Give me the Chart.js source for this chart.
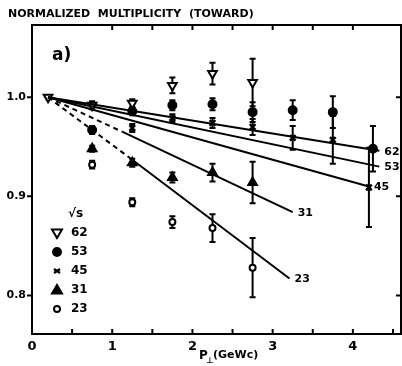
<!DOCTYPE html>
<html>
<head>
<meta charset="utf-8">
<script src="https://cdn.jsdelivr.net/npm/chart.js@4.4.0/dist/chart.umd.min.js"></script>
<style>
  html, body { margin: 0; padding: 0; background: #fff; }
  canvas { display: block; }
</style>
</head>
<body>
<canvas id="grafica" width="402" height="366"></canvas>
<script>
// ticks
const xTicks = [0, 0.5, 1, 1.5, 2, 2.5, 3, 3.5, 4, 4.5];
const xLabels = [0, 1, 2, 3, 4];
const yTicks = [0.8, 0.9, 1.0];

// datos medidos (pT, multiplicidad normalizada, error)
const pt62 = [0.2, 0.75, 1.25, 1.75, 2.25, 2.75];
const val62 = [1.0, 0.992, 0.994, 1.012, 1.024, 1.015];
const err62 = [0, 0.004, 0.004, 0.008, 0.011, 0.024];

const pt53 = [0.75, 1.25, 1.75, 2.25, 2.75, 3.25, 3.75, 4.25];
const val53 = [0.967, 0.986, 0.992, 0.993, 0.985, 0.987, 0.985, 0.948];
const err53 = [0.004, 0.004, 0.005, 0.006, 0.010, 0.010, 0.016, 0.023];

const pt45 = [1.25, 1.75, 2.25, 2.75, 3.25, 3.75, 4.2];
const val45 = [0.969, 0.979, 0.974, 0.970, 0.959, 0.957, 0.909];
const err45 = [0.004, 0.004, 0.005, 0.008, 0.012, 0.024, 0.04];

const pt31 = [0.75, 1.25, 1.75, 2.25, 2.75];
const val31 = [0.948, 0.934, 0.919, 0.924, 0.914];
const err31 = [0.003, 0.004, 0.005, 0.009, 0.021];

const pt23 = [0.75, 1.25, 1.75, 2.25, 2.75];
const val23 = [0.932, 0.894, 0.874, 0.868, 0.828];
const err23 = [0.004, 0.004, 0.006, 0.014, 0.03];

// rectas de ajuste
const fit62X = [0.2, 4.33], fit62Y = [1.0, 0.946];
const fit53X = [0.2, 4.33], fit53Y = [1.0, 0.930];
const fit45X = [0.2, 4.2], fit45Y = [1.0, 0.910];
const fit31DashX = [0.2, 1.13], fit31DashY = [1.0, 0.965];
const fit31X = [1.13, 3.25], fit31Y = [0.965, 0.884];
const fit23DashX = [0.2, 1.25], fit23DashY = [1.0, 0.937];
const fit23X = [1.25, 3.21], fit23Y = [0.937, 0.817];

const legendNames = ["62", "53", "45", "31", "23"];

function pares(xs, ys) {
  return xs.map((x, i) => ({ x: x, y: ys[i] }));
}

function recta(xs, ys, dash) {
  return {
    data: pares(xs, ys),
    showLine: true,
    borderColor: "#000",
    borderWidth: 2,
    borderDash: dash ? [5, 4] : [],
    pointRadius: 0
  };
}

const series = [
  { name: "62", xs: pt62, ys: val62, err: err62, style: "triangle", rot: 180, r: 5, fill: "#fff" },
  { name: "53", xs: pt53, ys: val53, err: err53, style: "circle", rot: 0, r: 4, fill: "#000" },
  { name: "45", xs: pt45, ys: val45, err: err45, style: "crossRot", rot: 0, r: 4, fill: "#000" },
  { name: "31", xs: pt31, ys: val31, err: err31, style: "triangle", rot: 0, r: 5, fill: "#000" },
  { name: "23", xs: pt23, ys: val23, err: err23, style: "circle", rot: 0, r: 3, fill: "#fff" }
];

const datasets = [
  recta(fit62X, fit62Y, false),
  recta(fit53X, fit53Y, false),
  recta(fit45X, fit45Y, false),
  recta(fit31DashX, fit31DashY, true),
  recta(fit31X, fit31Y, false),
  recta(fit23DashX, fit23DashY, true),
  recta(fit23X, fit23Y, false)
];
series.forEach(s => {
  datasets.push({
    data: pares(s.xs, s.ys),
    showLine: false,
    pointStyle: s.style,
    rotation: s.rot,
    pointRadius: s.r,
    backgroundColor: s.fill,
    borderColor: "#000",
    borderWidth: s.style === "crossRot" ? 2.5 : 2
  });
});

const fitLabels = [
  { t: "62", x: fit62X[1], y: fit62Y[1] },
  { t: "53", x: fit53X[1], y: fit53Y[1] },
  { t: "45", x: fit45X[1], y: fit45Y[1] },
  { t: "31", x: fit31X[1], y: fit31Y[1] },
  { t: "23", x: fit23X[1], y: fit23Y[1] }
];

function simbolo(ctx, s, x, y) {
  ctx.save();
  ctx.lineWidth = 2;
  ctx.strokeStyle = "#000";
  ctx.fillStyle = s.fill;
  const r = s.r;
  ctx.beginPath();
  if (s.style === "circle") {
    ctx.arc(x, y, r, 0, Math.PI * 2);
    ctx.fill(); ctx.stroke();
  } else if (s.style === "triangle") {
    const d = s.rot === 180 ? -1 : 1;
    ctx.moveTo(x, y - d * r);
    ctx.lineTo(x + r, y + d * r * 0.7);
    ctx.lineTo(x - r, y + d * r * 0.7);
    ctx.closePath();
    ctx.fill(); ctx.stroke();
  } else {
    ctx.lineWidth = 2.5;
    ctx.moveTo(x - 3, y - 2); ctx.lineTo(x + 3, y + 2);
    ctx.moveTo(x - 3, y + 2); ctx.lineTo(x + 3, y - 2);
    ctx.stroke();
  }
  ctx.restore();
}

const decoraciones = {
  id: "decoraciones",
  beforeDatasetsDraw(chart) {
    const ctx = chart.ctx, sx = chart.scales.x, sy = chart.scales.y;
    ctx.save();
    ctx.strokeStyle = "#000";
    ctx.lineWidth = 2;
    series.forEach(s => {
      s.xs.forEach((v, i) => {
        if (!s.err[i]) return;
        const px = sx.getPixelForValue(v);
        const y1 = sy.getPixelForValue(s.ys[i] + s.err[i]);
        const y2 = sy.getPixelForValue(s.ys[i] - s.err[i]);
        ctx.beginPath();
        ctx.moveTo(px, y1); ctx.lineTo(px, y2);
        ctx.moveTo(px - 3, y1); ctx.lineTo(px + 3, y1);
        ctx.moveTo(px - 3, y2); ctx.lineTo(px + 3, y2);
        ctx.stroke();
      });
    });
    ctx.restore();
  },
  afterDraw(chart) {
    const ctx = chart.ctx, a = chart.chartArea, sx = chart.scales.x, sy = chart.scales.y;
    ctx.save();
    // marco y marcas
    ctx.strokeStyle = "#000";
    ctx.lineWidth = 2;
    ctx.strokeRect(a.left, a.top, a.right - a.left, a.bottom - a.top);
    ctx.beginPath();
    xTicks.forEach(v => {
      const px = sx.getPixelForValue(v);
      if (v > 0) {
        ctx.moveTo(px, a.bottom); ctx.lineTo(px, a.bottom - 5);
        if (v >= 1 && v <= 4) { ctx.moveTo(px, a.top); ctx.lineTo(px, a.top + 5); }
      }
    });
    yTicks.forEach(v => {
      const py = sy.getPixelForValue(v);
      ctx.moveTo(a.left - 5, py); ctx.lineTo(a.left, py);
      ctx.moveTo(a.right, py); ctx.lineTo(a.right - 5, py);
    });
    ctx.stroke();

    // textos
    ctx.fillStyle = "#000";
    ctx.textBaseline = "middle";
    ctx.textAlign = "center";
    ctx.font = "bold 13px 'DejaVu Sans'";
    xLabels.forEach(v => {
      ctx.fillText(String(v), sx.getPixelForValue(v), a.bottom + 13);
    });

    ctx.textAlign = "left";
    ctx.font = "bold 11px 'DejaVu Sans'";
    ctx.fillText("NORMALIZED  MULTIPLICITY  (TOWARD)", 8, 14);
    ctx.font = "bold 17px 'DejaVu Sans'";
    ctx.fillText("a)", 52, 56);

    ctx.font = "bold 11px 'DejaVu Sans'";
    fitLabels.forEach(l => {
      ctx.fillText(l.t, sx.getPixelForValue(l.x) + 5, sy.getPixelForValue(l.y) + 1);
    });

    // leyenda
    ctx.font = "bold 12px 'DejaVu Sans'";
    ctx.fillText("\u221As", 68, 214);
    series.forEach((s, i) => {
      const y = 233 + i * 19;
      simbolo(ctx, s, 57, y);
      ctx.fillText(legendNames[i], 71, y);
    });

    // titulo eje x
    ctx.font = "bold 12px 'DejaVu Sans'";
    ctx.fillText("P", 199, 356);
    ctx.font = "bold 8px 'DejaVu Sans'";
    ctx.fillText("\u22A5", 206, 361);
    ctx.font = "bold 11px 'DejaVu Sans'";
    ctx.fillText("(GeWc)", 213, 355);
    ctx.restore();
  }
};

new Chart(document.getElementById("grafica").getContext("2d"), {
  type: "scatter",
  data: { datasets: datasets },
  options: {
    responsive: false,
    animation: false,
    devicePixelRatio: 1,
    layout: { autoPadding: false, padding: { top: 25, right: 1, left: 0, bottom: 0 } },
    plugins: { legend: { display: false }, tooltip: { enabled: false } },
    scales: {
      x: {
        type: "linear",
        min: 0,
        max: 4.6,
        afterBuildTicks: s => { s.ticks = xTicks.map(v => ({ value: v })); },
        afterFit: s => { s.height = 32; },
        grid: { display: false, drawTicks: false },
        border: { display: false },
        ticks: { display: false }
      },
      y: {
        min: 0.761,
        max: 1.073,
        afterBuildTicks: s => { s.ticks = yTicks.map(v => ({ value: v })); },
        afterFit: s => { s.width = 32; },
        grid: { display: false, drawTicks: false },
        border: { display: false },
        ticks: {
          color: "#000",
          padding: 6,
          font: { family: "DejaVu Sans", weight: "bold", size: 11 },
          callback: v => v.toFixed(1)
        }
      }
    }
  },
  plugins: [decoraciones]
});
</script>
</body>
</html>
